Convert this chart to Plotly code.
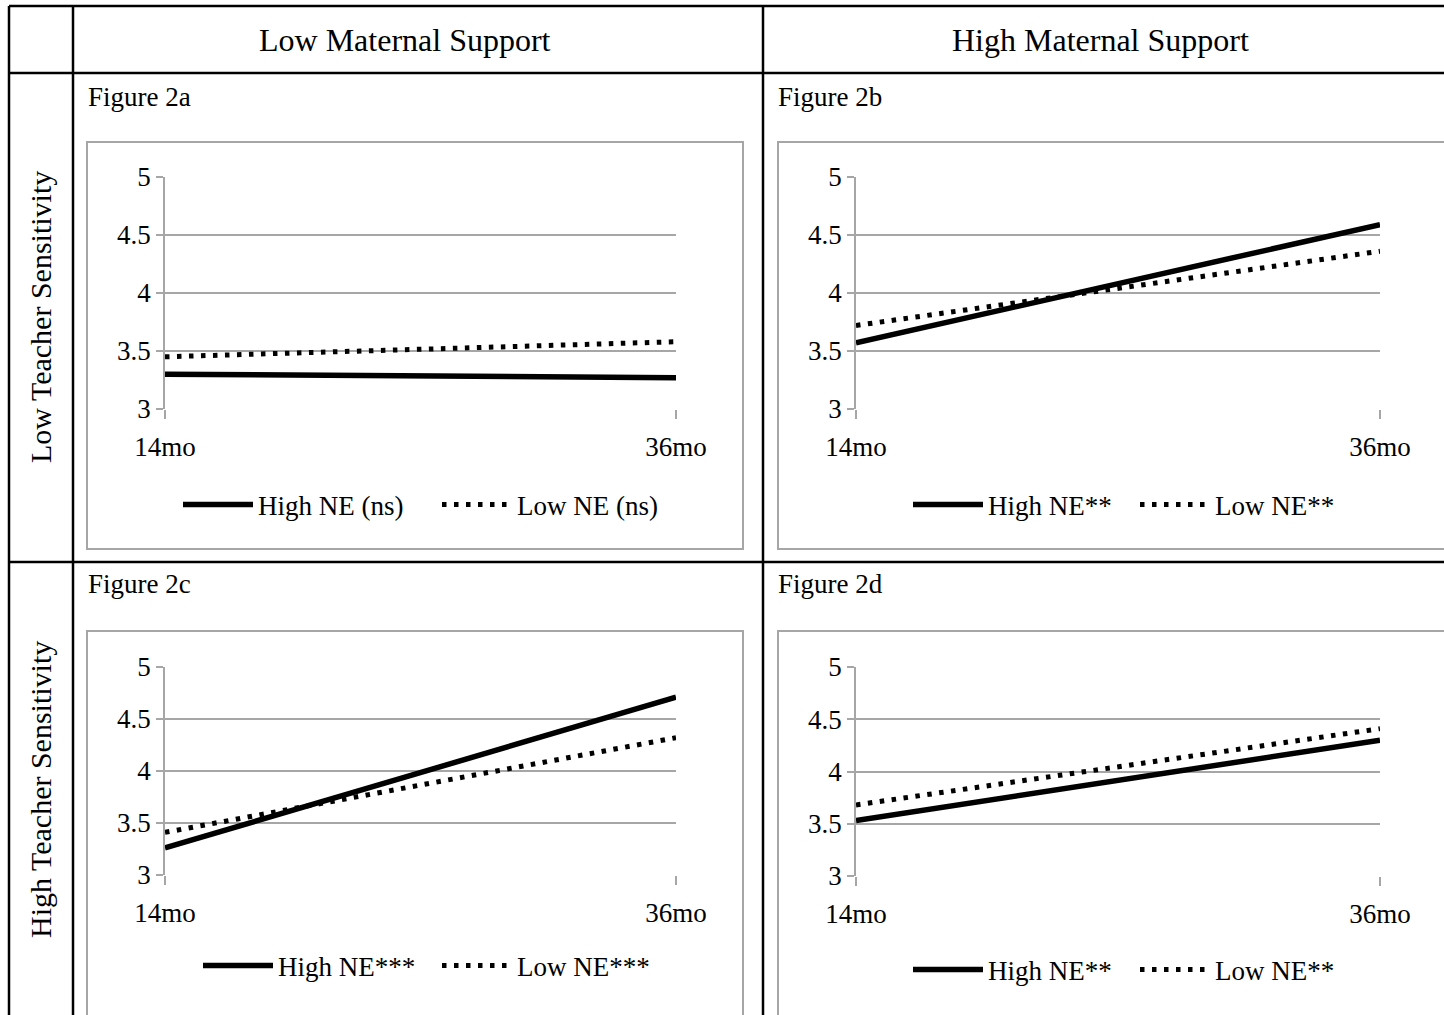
import plotly.graph_objects as go

W, H = 1444, 1015

time_labels = ["14mo", "36mo"]
x_pos = [0, 1]

# panel values: (High NE, Low NE) at 14mo and 36mo
high_a = [3.30, 3.27]
low_a = [3.45, 3.58]
high_b = [3.57, 4.59]
low_b = [3.72, 4.36]
high_c = [3.26, 4.71]
low_c = [3.41, 4.32]
high_d = [3.53, 4.30]
low_d = [3.68, 4.41]

names_a = ["High NE (ns)", "Low NE (ns)"]
names_b = ["High NE**", "Low NE**"]
names_c = ["High NE***", "Low NE***"]
names_d = ["High NE**", "Low NE**"]

col_headers = ["Low Maternal Support", "High Maternal Support"]
row_headers = ["Low Teacher Sensitivity", "High Teacher Sensitivity"]
fig_labels = ["Figure 2a", "Figure 2b", "Figure 2c", "Figure 2d"]

y_ticks = [3, 3.5, 4, 4.5, 5]
y_ticktext = ["3", "3.5", "4", "4.5", "5"]

TABLE_FONT = "Liberation Serif"
CHART_FONT = "Liberation Serif"
GRID = "#a6a6a6"
CHART_SIZE = 27
ITEM_W = 70


def px_x(p):
    return p / W


def px_y(p):
    return 1 - p / H


# plot area pixel boxes (left, top, right, bottom)
areas = [
    (165, 177, 676, 409),
    (856, 177, 1380, 409),
    (165, 667, 676, 875),
    (856, 667, 1380, 876),
]
# legend placement: left x of first entry, centre y, entry width (pixels)
legend_pos = [(178, 505, 174), (908, 505, 142), (198, 966, 154), (908, 970, 142)]

panels = [
    (high_a, low_a, names_a),
    (high_b, low_b, names_b),
    (high_c, low_c, names_c),
    (high_d, low_d, names_d),
]

fig = go.Figure()
layout = dict(
    width=W, height=H,
    margin=dict(l=0, r=0, t=0, b=0, pad=0, autoexpand=False),
    paper_bgcolor="white", plot_bgcolor="white",
    showlegend=True,
    font=dict(family=CHART_FONT, color="black", size=CHART_SIZE),
)

for i, ((hi, lo, nm), (l, t, r, b), (lx, ly, ew)) in enumerate(zip(panels, areas, legend_pos)):
    k = "" if i == 0 else str(i + 1)
    leg = "legend" if i == 0 else "legend" + str(i + 1)
    fig.add_trace(go.Scatter(
        x=x_pos, y=hi, mode="lines", name=nm[0],
        line=dict(color="black", width=5.5),
        xaxis="x" + k, yaxis="y" + k, legend=leg, hoverinfo="skip",
    ))
    fig.add_trace(go.Scatter(
        x=x_pos, y=lo, mode="lines", name=nm[1],
        line=dict(color="black", width=5, dash="4.5px,7.5px"),
        xaxis="x" + k, yaxis="y" + k, legend=leg, hoverinfo="skip",
    ))
    layout["xaxis" + k] = dict(
        domain=[px_x(l), px_x(r)], range=[0, 1], anchor="y" + k,
        tickvals=x_pos, ticktext=time_labels,
        showgrid=False, zeroline=False, showline=False,
        ticks="outside", ticklen=9, tickwidth=1.5, tickcolor=GRID,
        ticklabelstandoff=5, automargin=False,
        tickfont=dict(family=CHART_FONT, size=CHART_SIZE, color="black"),
        fixedrange=True,
    )
    layout["yaxis" + k] = dict(
        domain=[px_y(b), px_y(t)], range=[3, 5], anchor="x" + k,
        tickvals=y_ticks, ticktext=y_ticktext,
        showgrid=True, gridcolor=GRID, gridwidth=1.5,
        zeroline=False, showline=True, linecolor=GRID, linewidth=1.5,
        ticks="outside", ticklen=7, tickwidth=1.5, tickcolor=GRID,
        automargin=False,
        tickfont=dict(family=CHART_FONT, size=CHART_SIZE, color="black"),
        fixedrange=True,
    )
    layout[leg] = dict(
        orientation="h", x=px_x(lx), y=px_y(ly),
        xanchor="left", yanchor="middle",
        font=dict(family=CHART_FONT, size=CHART_SIZE, color="black"),
        bgcolor="rgba(0,0,0,0)", itemwidth=ITEM_W,
        traceorder="normal", entrywidthmode="pixels",
        entrywidth=ew,
    )

shapes = []
# table lines
for yy in [6, 73, 562]:
    shapes.append(dict(type="line", xref="paper", yref="paper",
                       x0=px_x(9), x1=px_x(W + 5), y0=px_y(yy), y1=px_y(yy),
                       line=dict(color="black", width=2.5)))
for xx in [9, 73, 763]:
    shapes.append(dict(type="line", xref="paper", yref="paper",
                       x0=px_x(xx), x1=px_x(xx), y0=px_y(6), y1=px_y(H + 5),
                       line=dict(color="black", width=2.5)))
# chart boxes
for (x0, y0, x1, y1) in [(87, 142, 743, 549), (778, 142, W + 8, 549),
                         (87, 631, 743, H + 8), (778, 631, W + 8, H + 8)]:
    shapes.append(dict(type="rect", xref="paper", yref="paper",
                       x0=px_x(x0), x1=px_x(x1), y0=px_y(y1), y1=px_y(y0),
                       line=dict(color=GRID, width=2), fillcolor="rgba(0,0,0,0)",
                       layer="below"))
layout["shapes"] = shapes

ann = []
for txt, cx in zip(col_headers, [405, 1100]):
    ann.append(dict(text=txt, x=px_x(cx), y=px_y(40), xref="paper", yref="paper",
                    xanchor="center", yanchor="middle", showarrow=False,
                    font=dict(family=TABLE_FONT, size=32, color="black")))
for txt, cy in zip(row_headers, [317, 790]):
    ann.append(dict(text=txt, x=px_x(40), y=px_y(cy), xref="paper", yref="paper",
                    xanchor="center", yanchor="middle", showarrow=False, textangle=-90,
                    font=dict(family=TABLE_FONT, size=30, color="black")))
for txt, (fx, fy) in zip(fig_labels, [(86, 97), (776, 97), (86, 584), (776, 584)]):
    ann.append(dict(text=txt, x=px_x(fx), y=px_y(fy), xref="paper", yref="paper",
                    xanchor="left", yanchor="middle", showarrow=False,
                    font=dict(family=TABLE_FONT, size=27, color="black")))
layout["annotations"] = ann

fig.update_layout(**layout)
fig.write_html("out.html", config={"displayModeBar": False},
               post_script="document.body.style.margin='0px';document.body.style.overflow='hidden';")
